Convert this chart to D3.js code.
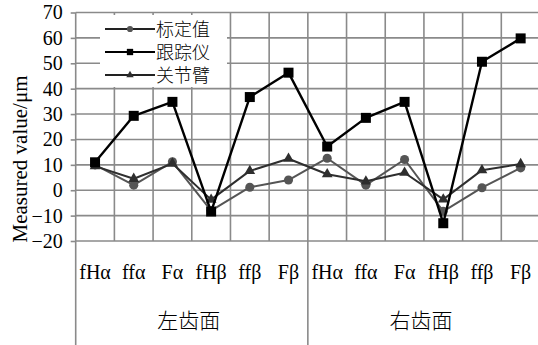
<!DOCTYPE html>
<html><head><meta charset="utf-8">
<script src="https://cdn.jsdelivr.net/npm/d3@7"></script>
<style>
html,body{margin:0;padding:0;background:#fff;}
svg{display:block;}
</style></head><body>
<div id="chart"></div>
<script>
const groups = ["左齿面", "右齿面"];
const categories = ["fHα", "ffα", "Fα", "fHβ", "ffβ", "Fβ"];
const yTicks = [-20, -10, 0, 10, 20, 30, 40, 50, 60, 70];
const seriesNames = ["标定值", "跟踪仪", "关节臂"];
const calibrated = [10, 2, 11.2, -8, 1.2, 4, 12.6, 2, 12.1, -8.3, 1, 8.8];
const tracker = [11, 29.3, 34.8, -8.4, 36.7, 46.3, 17.2, 28.5, 34.8, -13, 50.6, 59.8];
const arm = [9.5, 4.5, 10.5, -3.7, 7.6, 12.4, 6.3, 3.5, 6.9, -3.6, 7.9, 10.3];

(function () {
const W = 538, H = 345;
const LAT = "'Liberation Serif', 'DejaVu Serif', serif";
const CJK = "'Noto Sans CJK SC', sans-serif";
const pLeft = 75.7, pRight = 540, pTop = 12.5, pBottom = 241;
const svg = d3.select("#chart").append("svg").attr("width", W).attr("height", H);

const keys = [];
groups.forEach((g, gi) => categories.forEach((c, ci) => keys.push(gi + "|" + c)));
const x = d3.scaleBand().domain(keys).range([pLeft, pRight]).padding(0);
const y = d3.scaleLinear().domain([-20, 70]).range([pBottom, pTop]);

const gridColor = "#8a8a8a";
svg.append("g").selectAll("line").data(yTicks).join("line")
  .attr("x1", pLeft).attr("x2", pRight).attr("y1", d => y(d)).attr("y2", d => y(d))
  .attr("stroke", gridColor).attr("stroke-width", 1.6);
const bounds = keys.map(k => x(k)).concat([pRight]);
svg.append("g").selectAll("line").data(bounds).join("line")
  .attr("x1", d => d).attr("x2", d => d)
  .attr("y1", pTop)
  .attr("y2", (d, i) => (i === 0 || i === categories.length) ? H : pBottom)
  .attr("stroke", gridColor).attr("stroke-width", 1.6);

const yAxis = d3.axisLeft(y).tickValues(yTicks).tickSize(5).tickSizeOuter(0).tickPadding(8);
const ya = svg.append("g").attr("transform", `translate(${pLeft},0)`).call(yAxis)
  .attr("font-family", LAT).attr("font-size", 20);
ya.select(".domain").remove();
ya.selectAll(".tick line").attr("stroke", gridColor).attr("stroke-width", 1.6);
ya.selectAll("text").style("font-family", LAT).style("font-size", "20px").attr("fill", "#000");

svg.append("text").attr("transform", "translate(27,159) rotate(-90)")
  .attr("text-anchor", "middle").style("font-family", LAT).style("font-size", "21px")
  .attr("fill", "#000").text("Measured value/μm");

svg.append("g").selectAll("text").data(keys).join("text")
  .attr("x", d => x(d) + x.bandwidth() / 2).attr("y", 279)
  .attr("text-anchor", "middle").style("font-family", LAT).style("font-size", "20px")
  .attr("fill", "#000").text(d => d.split("|")[1]);
svg.append("g").selectAll("text").data(groups).join("text")
  .attr("x", (g, gi) => (x(gi + "|" + categories[0]) + x(gi + "|" + categories[categories.length - 1]) + x.bandwidth()) / 2 - 3)
  .attr("y", 328).attr("text-anchor", "middle").style("font-family", CJK).style("font-weight", 300)
  .style("font-size", "21px").attr("fill", "#000").text(d => d);

svg.append("rect").attr("x", 100).attr("y", 15).attr("width", 127).attr("height", 72).attr("fill", "#fff");

const series = [
  {name: seriesNames[0], values: calibrated, color: "#555", shape: d3.symbolCircle, size: 65, lsize: 30, width: 2},
  {name: seriesNames[2], values: arm, color: "#2e2e2e", shape: d3.symbolTriangle, size: 50, lsize: 24, width: 2},
  {name: seriesNames[1], values: tracker, color: "#000", shape: d3.symbolSquare, size: 100, lsize: 40, width: 2.4},
];
const line = d3.line().x((d, i) => x(keys[i]) + x.bandwidth() / 2).y(d => y(d));
series.forEach(s => {
  const g = svg.append("g");
  g.append("path").datum(s.values).attr("d", line).attr("fill", "none")
    .attr("stroke", s.color).attr("stroke-width", s.width).attr("stroke-linejoin", "round");
  g.selectAll("path.m").data(s.values).join("path").attr("class", "m")
    .attr("transform", (d, i) => `translate(${x(keys[i]) + x.bandwidth() / 2},${y(d)})`)
    .attr("d", d3.symbol().type(s.shape).size(s.size)).attr("fill", s.color);
});

const legendOrder = [series[0], series[2], series[1]];
const lg = svg.append("g");
legendOrder.forEach((s, i) => {
  const ly = 29 + i * 23;
  lg.append("line").attr("x1", 105).attr("x2", 155).attr("y1", ly).attr("y2", ly)
    .attr("stroke", i === 1 ? "#000" : "#222").attr("stroke-width", 2.2);
  lg.append("path").attr("transform", `translate(130,${ly})`)
    .attr("d", d3.symbol().type(s.shape).size(s.lsize)).attr("fill", s.color);
  lg.append("text").attr("x", 156).attr("y", ly + 6.5)
    .style("font-family", CJK).style("font-weight", 300).style("font-size", "18px")
    .attr("fill", "#000").text(s.name);
});
})();
</script>
</body></html>
